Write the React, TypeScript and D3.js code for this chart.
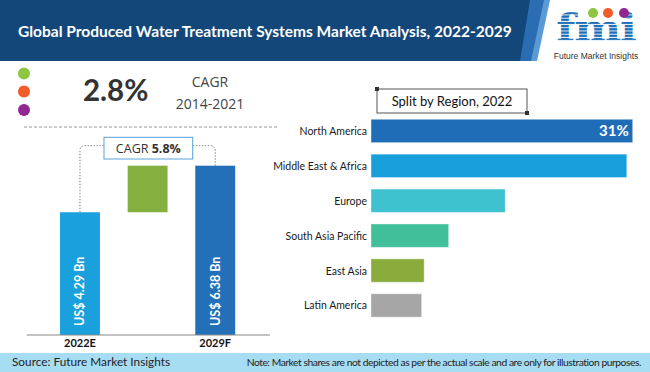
import React from "react";
import * as d3 from "d3";

// Left panel: market value waterfall
const years = ["2022E", "2029F"];
const marketValues = [4.29, 6.38];
const valueLabels = ["US$ 4.29 Bn", "US$ 6.38 Bn"];
const historicCagr = "2.8%";
const historicPeriod = "2014-2021";
const forecastCagr = "5.8%";

// Right panel: regional split
const regions = [
  "North America",
  "Middle East & Africa",
  "Europe",
  "South Asia Pacific",
  "East Asia",
  "Latin America",
];
const regionShares = [31, 30.3, 15.9, 9.2, 6.3, 6.0];
const regionColors = ["#1f6db7", "#169fdb", "#3fc2d0", "#40bf98", "#8aac3c", "#a6a6a6"];

const W = 650;
const H = 372;
const font = "Lato, 'Open Sans', sans-serif";

const App: React.FC = () => {
  // waterfall scales (illustrative, bars don't start at zero)
  const xCols = d3
    .scaleBand<string>()
    .domain([years[0], "growth", years[1]])
    .range([46.5, 248.7])
    .paddingInner(0.41)
    .paddingOuter(0.2);
  const y = d3.scaleLinear().domain([-1.22, 6.38]).range([335, 165.7]);
  const bw = xCols.bandwidth();
  const cx0 = xCols(years[0])! + bw / 2;
  const cx1 = xCols(years[1])! + bw / 2;

  // region scales
  const xr = d3.scaleLinear().domain([0, 31]).range([371, 632.7]);
  const yr = d3
    .scaleBand<string>()
    .domain(regions)
    .range([113.5, 322.9])
    .paddingInner(0.33)
    .paddingOuter(0.165);

  const boxL = 104;
  const boxR = 192.7;
  const boxMid = 145.7;

  return (
    <svg width={W} height={H} style={{ position: "absolute", left: 0, top: 0 }}>
      <defs>
        <pattern id="stripes" width="4" height="3.2" patternUnits="userSpaceOnUse">
          <rect width="4" height="2.3" fill="#1f6fb8" />
        </pattern>
      </defs>
      <rect width={W} height={H} fill="#fff" />

      {/* header */}
      <polygon points={`0,0 550,0 537,61 0,61`} fill="#5b9bd5" />
      <polygon points={`0,0 544,0 531,61 0,61`} fill="#2a6db3" />
      <polygon points={`0,0 530,0 520,61 0,61`} fill="#13477a" />
      <text x={18} y={37} fill="#fff" fontFamily={font} fontWeight={700} fontSize={15.5}>
        Global Produced Water Treatment Systems Market Analysis, 2022-2029
      </text>

      {/* logo */}
      <text
        transform="translate(596,41) scale(1.2,1)"
        textAnchor="middle"
        fontFamily="'DejaVu Serif', serif"
        fontWeight={700}
        fontSize={37}
        fill="url(#stripes)"
        letterSpacing={-1}
      >
        fmi
      </text>
      <circle cx={593} cy={13} r={5} fill="#8dc63f" />
      <circle cx={608} cy={13} r={5} fill="#f15a29" />
      <circle cx={624} cy={13} r={5} fill="#92278f" />
      <text x={596} y={58.5} textAnchor="middle" fontFamily="'Liberation Sans', sans-serif" fontSize={8.5} fill="#333">
        Future Market Insights
      </text>

      {/* historic CAGR block */}
      <circle cx={24} cy={73.5} r={6} fill="#8dc63f" />
      <circle cx={24} cy={91.5} r={6} fill="#f15a29" />
      <circle cx={24} cy={110} r={6} fill="#92278f" />
      <text x={83} y={101} fontFamily={font} fontWeight={700} fontSize={29.5} fill="#333">
        {historicCagr}
      </text>
      <text x={210} y={87} textAnchor="middle" fontFamily="'Open Sans', sans-serif" fontSize={14} fill="#444">
        CAGR
      </text>
      <text x={210} y={109} textAnchor="middle" fontFamily="'Open Sans', sans-serif" fontSize={14} fill="#444">
        {historicPeriod}
      </text>
      <line x1={24} x2={278} y1={127} y2={127} stroke="#999" strokeDasharray="3,2" />

      {/* connectors */}
      <path
        d={`M${boxL},${boxMid} H${cx0 + 5} Q${cx0},${boxMid} ${cx0},${boxMid + 5} V${y(marketValues[0])}`}
        fill="none"
        stroke="#888"
        strokeDasharray="1.5,1.5"
      />
      <path
        d={`M${boxR},${boxMid} H${cx1 - 5} Q${cx1},${boxMid} ${cx1},${boxMid + 5} V${y(marketValues[1])}`}
        fill="none"
        stroke="#888"
        strokeDasharray="1.5,1.5"
      />
      <rect x={boxL} y={137.3} width={boxR - boxL} height={21.7} fill="#fff" stroke="#5aa0d8" />
      <text x={(boxL + boxR) / 2} y={153} textAnchor="middle" fontFamily="'Open Sans', sans-serif" fontSize={12.5} fill="#333">
        CAGR <tspan fontWeight={700}>{forecastCagr}</tspan>
      </text>

      {/* waterfall bars */}
      <rect
        x={xCols(years[0])}
        y={y(marketValues[0])}
        width={bw}
        height={y(-1.22) - y(marketValues[0])}
        fill="#1aa0dc"
      />
      <rect
        x={xCols("growth")}
        y={y(marketValues[1])}
        width={bw}
        height={y(marketValues[0]) - y(marketValues[1])}
        fill="#83b03f"
      />
      <rect
        x={xCols(years[1])}
        y={y(marketValues[1])}
        width={bw}
        height={y(-1.22) - y(marketValues[1])}
        fill="#2370b9"
      />
      {years.map((yr0, i) => {
        const cx = xCols(yr0)! + bw / 2;
        return (
          <g key={yr0}>
            <text
              transform={`translate(${cx + 4.5},326) rotate(-90)`}
              fontFamily={font}
              fontWeight={700}
              fontSize={12.5}
              fill="#fff"
            >
              {valueLabels[i]}
            </text>
            <text x={cx} y={347} textAnchor="middle" fontFamily={font} fontWeight={700} fontSize={11} fill="#111">
              {yr0}
            </text>
          </g>
        );
      })}
      <line x1={26.7} x2={270} y1={335} y2={335} stroke="#888" />

      {/* region split */}
      <rect x={377} y={89} width={150} height={24} fill="#fff" stroke="#555" />
      <rect x={375} y={87} width={4} height={4} fill="#333" />
      <rect x={525} y={111} width={4} height={4} fill="#333" />
      <text x={452} y={106} textAnchor="middle" fontFamily={font} fontSize={13} fill="#111">
        Split by Region, 2022
      </text>
      {regions.map((r, i) => (
        <g key={r}>
          <rect
            x={xr(0)}
            y={yr(r)}
            width={xr(regionShares[i]) - xr(0)}
            height={yr.bandwidth()}
            fill={regionColors[i]}
            stroke="#fff"
            strokeOpacity={0.4}
          />
          <text
            x={367}
            y={yr(r)! + yr.bandwidth() / 2 + 4}
            textAnchor="end"
            fontFamily={font}
            fontSize={10.5}
            fill="#1a1a1a"
          >
            {r}
          </text>
        </g>
      ))}
      <text
        x={xr(regionShares[0]) - 4}
        y={yr(regions[0])! + yr.bandwidth() / 2 + 5.5}
        textAnchor="end"
        fontFamily={font}
        fontWeight={700}
        fontSize={15}
        fill="#fff"
      >
        {regionShares[0]}%
      </text>

      {/* footer */}
      <rect x={0} y={353} width={W} height={H - 353} fill="#a7ddf3" />
      <text x={12} y={366} fontFamily={font} fontSize={11.8} fill="#222">
        Source: Future Market Insights
      </text>
      <text x={641} y={366} textAnchor="end" fontFamily={font} fontSize={10.3} letterSpacing={-0.45} fill="#222">
        Note: Market shares are not depicted as per the actual scale and are only for illustration purposes.
      </text>
    </svg>
  );
};

export default App;
